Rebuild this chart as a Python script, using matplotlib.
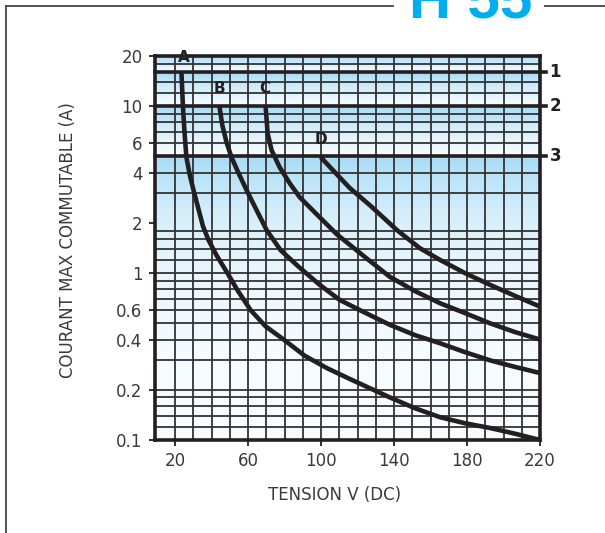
import matplotlib
matplotlib.use("Agg")
import matplotlib.pyplot as plt
from matplotlib.lines import Line2D
from matplotlib.ticker import NullLocator
import numpy as np

# curves: voltage (V DC) / max switched current (A)
curve_a_v = [23.5, 24.3, 25.1, 26.2, 28.1, 30.1, 35.3, 38.3, 42.7, 48.7, 54.2, 61.4,
             69.6, 79.5, 91.0, 103.1, 115.8, 137.7, 151.5, 165.2, 178.9, 192.7, 206.4, 220]
curve_a_i = [16.0, 10.0, 7.18, 4.95, 3.86, 3.14, 1.91, 1.58, 1.28, 1.0, 0.79, 0.60,
             0.48, 0.40, 0.32, 0.27, 0.232, 0.18, 0.155, 0.137, 0.126, 0.118, 0.109, 0.10]

curve_b_v = [44.3, 45.9, 48.2, 50.9, 54.8, 59.2, 64.7, 70.2, 77.9, 87.8, 99.3, 110.3,
             124.0, 137.7, 151.5, 165.2, 178.9, 192.7, 206.4, 220]
curve_b_i = [10.0, 7.69, 6.09, 4.95, 3.97, 3.14, 2.38, 1.81, 1.37, 1.09, 0.85, 0.69,
             0.58, 0.49, 0.425, 0.38, 0.336, 0.30, 0.274, 0.252]

curve_c_v = [69.6, 70.2, 70.7, 72.9, 77.3, 82.8, 88.3, 98.2, 108.6, 124.0, 137.7,
             151.5, 165.2, 178.9, 192.7, 206.4, 220]
curve_c_i = [10.0, 8.25, 6.89, 5.45, 4.31, 3.46, 2.85, 2.22, 1.71, 1.25, 0.95,
             0.78, 0.66, 0.576, 0.50, 0.443, 0.40]

curve_d_v = [99.8, 107.5, 115.8, 126.8, 141.6, 154.2, 165.2, 178.9, 192.7, 206.4, 220]
curve_d_i = [4.95, 4.03, 3.23, 2.55, 1.81, 1.41, 1.20, 1.0, 0.85, 0.73, 0.63]

curve_names = ["A", "B", "C", "D"]

x_ticks = [20, 60, 100, 140, 180, 220]
y_ticks = [0.1, 0.2, 0.4, 0.6, 1, 2, 4, 6, 10, 20]
y_tick_labels = ["0.1", "0.2", "0.4", "0.6", "1", "2", "4", "6", "10", "20"]

# limit lines 1, 2, 3 and the grid
limit_lines = [16, 10, 5]
limit_names = ["1", "2", "3"]
grid_x = list(range(20, 220, 10))
grid_y = [18, 14, 12, 9, 8, 7, 6, 4, 3, 1.8, 1.6, 1.4, 1.2, 1,
          0.9, 0.8, 0.7, 0.6, 0.5, 0.4, 0.3, 0.2, 0.18, 0.16, 0.14, 0.12]

ink = "#231f20"
txt = "#3a3a3a"
blue_top = np.array([166, 219, 245]) / 255
blue_bottom = np.array([248, 252, 255]) / 255

fig = plt.figure(figsize=(6.05, 5.33), dpi=100)
ax = fig.add_axes([155 / 605, 1 - 440 / 533, 385 / 605, 384 / 533])

x_min, x_max = 9, 220
y_min, y_max = 0.1, 20
ax.set_yscale("log")

# gradient bands between the limit lines
bands = [(16, 20), (10, 16), (5, 10), (0.1, 5)]
for lo, hi in bands:
    t = np.linspace(0, 1, 64)[:, None]
    grad = (1 - t) * blue_top + t * blue_bottom
    ax.imshow(grad[:, None, :], extent=(x_min, x_max, lo, hi), aspect="auto",
              origin="upper", interpolation="bilinear", zorder=0)

for gx in grid_x:
    ax.axvline(gx, color="#333333", lw=1.3, zorder=1)
for gy in grid_y:
    ax.axhline(gy, color="#333333", lw=1.3, zorder=1)

ytr = ax.get_yaxis_transform()
for val, name in zip(limit_lines, limit_names):
    ax.plot([0, 1.016], [val, val], color=ink, lw=2.6, transform=ytr,
            clip_on=False, zorder=3)
    ax.text(1.04, val, name, transform=ytr, fontsize=12, fontweight="bold",
            color=ink, ha="center", va="center")

curves = [(curve_a_v, curve_a_i), (curve_b_v, curve_b_i),
          (curve_c_v, curve_c_i), (curve_d_v, curve_d_i)]
for v, i in curves:
    ax.plot(v, i, color=ink, lw=3.3, solid_capstyle="butt",
            solid_joinstyle="round", zorder=4)

label_pos = [(24.6, 19.6), (44.3, 12.8), (69.0, 12.8), (99.8, 6.3)]
for (lx, ly), name in zip(label_pos, curve_names):
    ax.text(lx, ly, name, fontsize=11, fontweight="bold", color=ink,
            ha="center", va="center", zorder=5)

ax.set_xlim(x_min, x_max)
ax.set_ylim(y_min, y_max)
ax.set_xticks(x_ticks)
ax.set_xticklabels([str(t) for t in x_ticks])
ax.set_yticks(y_ticks)
ax.set_yticklabels(y_tick_labels)
ax.yaxis.set_minor_locator(NullLocator())
ax.tick_params(axis="both", length=4, width=1.3, color=ink, labelsize=12,
               labelcolor=txt, pad=5)

for s in ax.spines.values():
    s.set_linewidth(2.6)
    s.set_color(ink)
    s.set_zorder(6)

fig.text(335 / 605, 1 - 495 / 533, "TENSION V (DC)", fontsize=12, color=txt,
         ha="center", va="center")
fig.text(68 / 605, 1 - 240 / 533, "COURANT MAX COMMUTABLE (A)", fontsize=12,
         color=txt, ha="center", va="center", rotation=90)

# page frame with the title breaking the top line
fig.add_artist(Line2D([6 / 605, 6 / 605], [0, 1 - 6 / 533], color="#444444", lw=1.3))
fig.add_artist(Line2D([6 / 605, 393 / 605], [1 - 6 / 533, 1 - 6 / 533], color="#444444", lw=1.3))
fig.add_artist(Line2D([545 / 605, 1], [1 - 6 / 533, 1 - 6 / 533], color="#444444", lw=1.3))
fig.text(409 / 605, 1 - 18 / 533, "H 55", fontsize=42, fontweight="bold",
         color="#00aeef", family="Liberation Sans", ha="left", va="baseline")

fig.savefig("out.png", dpi=100)
